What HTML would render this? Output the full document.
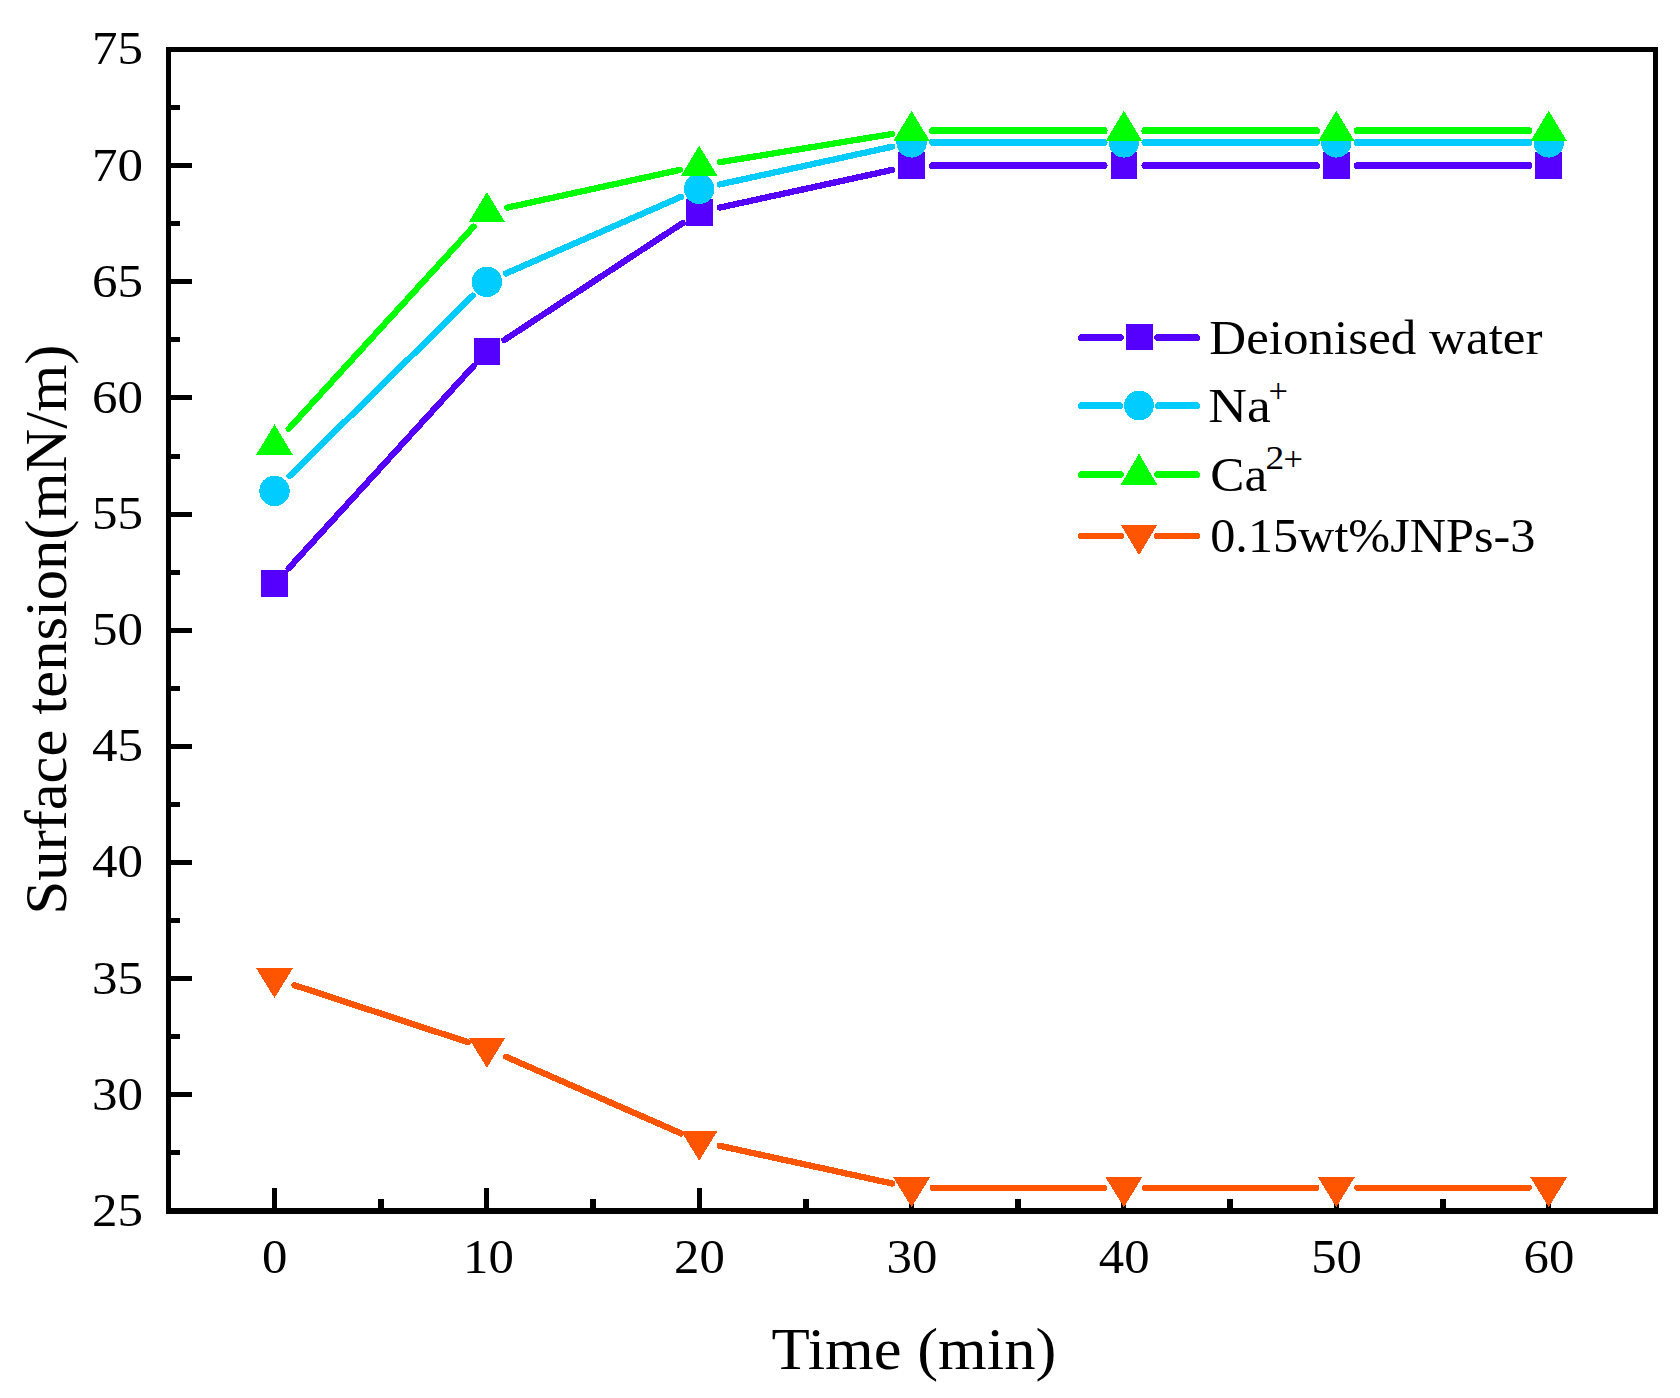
<!DOCTYPE html>
<html lang="en"><head><meta charset="utf-8"><title>Surface tension vs time</title>
<style>html,body{margin:0;padding:0;background:#fff}body{width:1680px;height:1398px;overflow:hidden}svg{display:block}text{font-family:"Liberation Serif", "Times New Roman", serif;fill:#000}</style>
</head><body>
<svg width="1680" height="1398" viewBox="0 0 1680 1398">
<rect width="1680" height="1398" fill="#fff"/>
<g fill="#000" shape-rendering="crispEdges">
<rect x="166" y="1092" width="26" height="5"/>
<rect x="166" y="976" width="26" height="5"/>
<rect x="166" y="860" width="26" height="5"/>
<rect x="166" y="744" width="26" height="5"/>
<rect x="166" y="628" width="26" height="5"/>
<rect x="166" y="512" width="26" height="5"/>
<rect x="166" y="395" width="26" height="5"/>
<rect x="166" y="279" width="26" height="5"/>
<rect x="166" y="163" width="26" height="5"/>
<rect x="166" y="1150" width="14" height="5"/>
<rect x="166" y="1034" width="14" height="5"/>
<rect x="166" y="918" width="14" height="5"/>
<rect x="166" y="802" width="14" height="5"/>
<rect x="166" y="686" width="14" height="5"/>
<rect x="166" y="570" width="14" height="5"/>
<rect x="166" y="454" width="14" height="5"/>
<rect x="166" y="337" width="14" height="5"/>
<rect x="166" y="221" width="14" height="5"/>
<rect x="166" y="105" width="14" height="5"/>
<rect x="272" y="1188" width="5" height="24"/>
<rect x="484" y="1188" width="5" height="24"/>
<rect x="697" y="1188" width="5" height="24"/>
<rect x="909" y="1188" width="5" height="24"/>
<rect x="1121" y="1188" width="5" height="24"/>
<rect x="1334" y="1188" width="5" height="24"/>
<rect x="1546" y="1188" width="5" height="24"/>
<rect x="378" y="1199" width="6" height="12"/>
<rect x="590" y="1199" width="6" height="12"/>
<rect x="803" y="1199" width="6" height="12"/>
<rect x="1015" y="1199" width="6" height="12"/>
<rect x="1227" y="1199" width="6" height="12"/>
<rect x="1440" y="1199" width="6" height="12"/>
<rect x="166" y="47" width="5" height="1167"/>
<rect x="1653" y="47" width="5" height="1167"/>
<rect x="166" y="47" width="1492" height="5"/>
<rect x="166" y="1208" width="1492" height="6"/>
</g>
<text transform="translate(143.0,1225.8) scale(1.075,1)" font-size="47.5" text-anchor="end">25</text>
<text transform="translate(143.0,1109.6) scale(1.075,1)" font-size="47.5" text-anchor="end">30</text>
<text transform="translate(143.0,993.5) scale(1.075,1)" font-size="47.5" text-anchor="end">35</text>
<text transform="translate(143.0,877.3) scale(1.075,1)" font-size="47.5" text-anchor="end">40</text>
<text transform="translate(143.0,761.2) scale(1.075,1)" font-size="47.5" text-anchor="end">45</text>
<text transform="translate(143.0,645.0) scale(1.075,1)" font-size="47.5" text-anchor="end">50</text>
<text transform="translate(143.0,528.9) scale(1.075,1)" font-size="47.5" text-anchor="end">55</text>
<text transform="translate(143.0,412.7) scale(1.075,1)" font-size="47.5" text-anchor="end">60</text>
<text transform="translate(143.0,296.6) scale(1.075,1)" font-size="47.5" text-anchor="end">65</text>
<text transform="translate(143.0,180.5) scale(1.075,1)" font-size="47.5" text-anchor="end">70</text>
<text transform="translate(143.0,64.3) scale(1.075,1)" font-size="47.5" text-anchor="end">75</text>
<text transform="translate(274.8,1273.2) scale(1.070,1)" font-size="47.5" text-anchor="middle">0</text>
<text transform="translate(488.5,1273.2) scale(1.070,1)" font-size="47.5" text-anchor="middle">10</text>
<text transform="translate(699.5,1273.2) scale(1.070,1)" font-size="47.5" text-anchor="middle">20</text>
<text transform="translate(911.9,1273.2) scale(1.070,1)" font-size="47.5" text-anchor="middle">30</text>
<text transform="translate(1124.2,1273.2) scale(1.070,1)" font-size="47.5" text-anchor="middle">40</text>
<text transform="translate(1336.6,1273.2) scale(1.070,1)" font-size="47.5" text-anchor="middle">50</text>
<text transform="translate(1549.0,1273.2) scale(1.070,1)" font-size="47.5" text-anchor="middle">60</text>
<text transform="translate(771.6,1369.3) scale(1.044,1)" font-size="60" text-anchor="start">Time (min)</text>
<text transform="translate(65.8,914.5) rotate(-90) scale(1.009,1)" font-size="60" text-anchor="start">Surface tension(mN/m)</text>
<g shape-rendering="crispEdges">
<path d="M288.7 568.3L473.5 366.1M504.4 340.0L682.7 223.0M719.7 207.6L892.2 169.9" stroke="#5500FF" stroke-width="6.3" stroke-linecap="round" fill="none"/>
<path d="M932.6 165.7L1104.1 165.7M1144.9 165.7L1316.5 165.7M1357.3 165.7L1528.9 165.7" stroke="#5500FF" stroke-width="7.0" stroke-linecap="round" fill="none"/>
<rect x="261.1" y="570.4" width="26.8" height="26.8" fill="#5500FF"/>
<rect x="473.5" y="338.1" width="26.8" height="26.8" fill="#5500FF"/>
<rect x="685.8" y="198.7" width="26.8" height="26.8" fill="#5500FF"/>
<rect x="898.2" y="152.3" width="26.8" height="26.8" fill="#5500FF"/>
<rect x="1110.5" y="152.3" width="26.8" height="26.8" fill="#5500FF"/>
<rect x="1322.9" y="152.3" width="26.8" height="26.8" fill="#5500FF"/>
<rect x="1535.3" y="152.3" width="26.8" height="26.8" fill="#5500FF"/>
</g>
<g shape-rendering="crispEdges">
<path d="M289.5 476.1L472.8 295.7M506.1 273.4L681.1 196.8M719.7 184.4L892.2 146.7" stroke="#00CCFF" stroke-width="6.3" stroke-linecap="round" fill="none"/>
<path d="M932.6 142.4L1104.1 142.4M1144.9 142.4L1316.5 142.4M1357.3 142.4L1528.9 142.4" stroke="#00CCFF" stroke-width="7.0" stroke-linecap="round" fill="none"/>
<circle cx="274.5" cy="490.9" r="15.2" fill="#00CCFF"/>
<circle cx="486.9" cy="281.8" r="15.2" fill="#00CCFF"/>
<circle cx="699.2" cy="188.9" r="15.2" fill="#00CCFF"/>
<circle cx="911.6" cy="142.4" r="15.2" fill="#00CCFF"/>
<circle cx="1123.9" cy="142.4" r="15.2" fill="#00CCFF"/>
<circle cx="1336.3" cy="142.4" r="15.2" fill="#00CCFF"/>
<circle cx="1548.7" cy="142.4" r="15.2" fill="#00CCFF"/>
</g>
<g shape-rendering="crispEdges">
<path d="M288.7 428.9L473.5 226.7M507.4 207.6L679.9 169.9M719.9 162.2L892.0 134.0" stroke="#00FF00" stroke-width="6.3" stroke-linecap="round" fill="none"/>
<path d="M932.6 130.8L1104.1 130.8M1144.9 130.8L1316.5 130.8M1357.3 130.8L1528.9 130.8" stroke="#00FF00" stroke-width="7.0" stroke-linecap="round" fill="none"/>
<polygon points="274.5,424.4 256.2,454.7 292.8,454.7" fill="#00FF00"/>
<polygon points="486.9,192.1 468.6,222.4 505.2,222.4" fill="#00FF00"/>
<polygon points="699.2,145.7 680.9,176.0 717.5,176.0" fill="#00FF00"/>
<polygon points="911.6,110.8 893.3,141.1 929.9,141.1" fill="#00FF00"/>
<polygon points="1123.9,110.8 1105.6,141.1 1142.2,141.1" fill="#00FF00"/>
<polygon points="1336.3,110.8 1318.0,141.1 1354.6,141.1" fill="#00FF00"/>
<polygon points="1548.7,110.8 1530.4,141.1 1567.0,141.1" fill="#00FF00"/>
</g>
<g shape-rendering="crispEdges">
<path d="M294.5 985.2L468.0 1042.2M506.1 1056.8L681.1 1133.4M719.7 1145.8L892.2 1183.5" stroke="#FF5500" stroke-width="6.3" stroke-linecap="round" fill="none"/>
<path d="M932.6 1187.8L1104.1 1187.8M1144.9 1187.8L1316.5 1187.8M1357.3 1187.8L1528.9 1187.8" stroke="#FF5500" stroke-width="6.0" stroke-linecap="round" fill="none"/>
<polygon points="274.5,998.1 256.2,968.3 292.8,968.3" fill="#FF5500"/>
<polygon points="486.9,1067.8 468.6,1038.0 505.2,1038.0" fill="#FF5500"/>
<polygon points="699.2,1160.7 680.9,1130.9 717.5,1130.9" fill="#FF5500"/>
<polygon points="911.6,1207.2 893.3,1177.4 929.9,1177.4" fill="#FF5500"/>
<polygon points="1123.9,1207.2 1105.6,1177.4 1142.2,1177.4" fill="#FF5500"/>
<polygon points="1336.3,1207.2 1318.0,1177.4 1354.6,1177.4" fill="#FF5500"/>
<polygon points="1548.7,1207.2 1530.4,1177.4 1567.0,1177.4" fill="#FF5500"/>
</g>
<g shape-rendering="crispEdges">
<path d="M1081.5 337.5H1120.4M1157.6 337.5H1196.5" stroke="#5500FF" stroke-width="7.0" stroke-linecap="round" fill="none"/>
<rect x="1126" y="324" width="27" height="26" fill="#5500FF"/>
<path d="M1081.5 405.5H1119.5M1158.5 405.5H1196.5" stroke="#00CCFF" stroke-width="7.0" stroke-linecap="round" fill="none"/>
<circle cx="1139.0" cy="405.5" r="14.8" fill="#00CCFF"/>
<path d="M1081.5 474.5H1120.4M1157.6 474.5H1196.5" stroke="#00FF00" stroke-width="7.0" stroke-linecap="round" fill="none"/>
<polygon points="1139.0,453.6 1120.7,484.8 1157.3,484.8" fill="#00FF00"/>
<path d="M1081.0 536.0H1120.9M1157.1 536.0H1197.0" stroke="#FF5500" stroke-width="6.0" stroke-linecap="round" fill="none"/>
<polygon points="1139.0,555.0 1120.7,524.8 1157.3,524.8" fill="#FF5500"/>
</g>
<text transform="translate(1209.3,353.8) scale(1.064,1)" font-size="48" text-anchor="start">Deionised water</text>
<text transform="translate(1208.3,422.3) scale(1.117,1)" font-size="48" text-anchor="start">Na</text>
<text transform="translate(1268.5,401.5) scale(1.000,1)" font-size="34.5" text-anchor="start">+</text>
<text transform="translate(1210.3,490.7) scale(1.067,1)" font-size="48" text-anchor="start">Ca</text>
<text transform="translate(1265.6,469.0) scale(1.120,1)" font-size="33.5" text-anchor="start">2</text>
<text transform="translate(1283.6,469.5) scale(1.000,1)" font-size="34.5" text-anchor="start">+</text>
<text transform="translate(1210.2,552.1) scale(1.047,1)" font-size="48" text-anchor="start">0.15wt%JNPs-3</text>
</svg></body></html>
